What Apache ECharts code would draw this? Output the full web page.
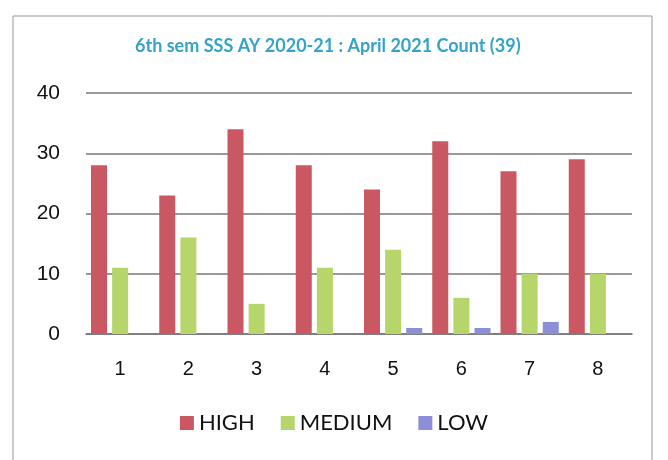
<!DOCTYPE html>
<html>
<head>
<meta charset="utf-8">
<script src="https://cdn.jsdelivr.net/npm/echarts@6/dist/echarts.min.js"></script>
<style>
  html, body { margin: 0; padding: 0; background: #fff; }
  #chart { width: 668px; height: 460px; }
</style>
</head>
<body>
<div id="chart"></div>
<script>
// semester data
const categories = ['1', '2', '3', '4', '5', '6', '7', '8'];
const highValues = [28, 23, 34, 28, 24, 32, 27, 29];
const mediumValues = [11, 16, 5, 11, 14, 6, 10, 10];
const lowValues = [0, 0, 0, 0, 1, 1, 2, 0];
const yTicks = [0, 10, 20, 30, 40];

const chart = echarts.init(document.getElementById('chart'));

chart.setOption({
  backgroundColor: '#fff',
  animation: false,
  title: {
    text: '6th sem SSS AY 2020-21 : April 2021 Count (39)',
    left: 130,
    top: 32,
    textStyle: {
      color: '#35a3c9',
      fontFamily: 'Lato',
      fontSize: 18,
      fontWeight: 'bold'
    }
  },
  legend: {
    bottom: 21,
    left: 'center',
    itemWidth: 14,
    itemHeight: 14,
    itemGap: 26,
    icon: 'rect',
    textStyle: {
      color: '#111',
      fontFamily: 'Lato',
      fontSize: 22
    },
    data: ['HIGH', 'MEDIUM', 'LOW']
  },
  grid: {
    left: 86,
    right: 36,
    top: 93,
    bottom: 126
  },
  xAxis: {
    type: 'category',
    data: categories,
    axisTick: { show: false },
    axisLine: { lineStyle: { color: '#777', width: 1.5 } },
    axisLabel: {
      color: '#111',
      fontFamily: 'Liberation Sans',
      fontSize: 20,
      margin: 25
    }
  },
  yAxis: {
    type: 'value',
    min: yTicks[0],
    max: yTicks[yTicks.length - 1],
    interval: 10,
    axisLine: { show: false },
    axisTick: { show: false },
    axisLabel: {
      color: '#111',
      fontFamily: 'Liberation Sans',
      fontSize: 21,
      margin: 26
    },
    splitLine: { lineStyle: { color: '#777', width: 1.5 } }
  },
  series: [
    {
      name: 'HIGH',
      type: 'bar',
      data: highValues,
      barWidth: 16,
      barGap: '32%',
      itemStyle: { color: '#c95863' }
    },
    {
      name: 'MEDIUM',
      type: 'bar',
      data: mediumValues,
      barWidth: 16,
      itemStyle: { color: '#b6d56b' }
    },
    {
      name: 'LOW',
      type: 'bar',
      data: lowValues,
      barWidth: 16,
      itemStyle: { color: '#8d8ed8' }
    }
  ],
  graphic: [
    {
      type: 'rect',
      shape: { x: 13, y: 16, width: 639, height: 470 },
      style: { fill: 'none', stroke: '#999', lineWidth: 1 },
      silent: true
    }
  ]
});
</script>
</body>
</html>
